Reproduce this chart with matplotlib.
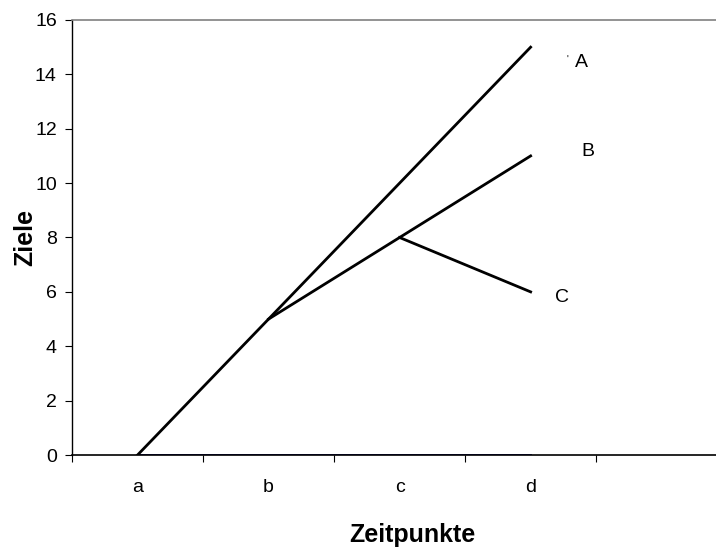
"""
Zielentwicklung ueber Zeitpunkte (Excel-style line chart).
"""

import matplotlib

matplotlib.use("Agg")
import matplotlib.pyplot as plt

categories = ["a", "b", "c", "d"]
series_a = [0, 5, 10, 15]
series_b_x = [1, 2, 3]
series_b = [5, 8, 11]
series_c_x = [2, 3]
series_c = [8, 6]
baseline = [0, 0, 0, 0]

labels = ["A", "B", "C"]
label_x = [3.39, 3.44, 3.24]
label_y = [14.45, 11.18, 5.81]

y_ticks = list(range(0, 17, 2))

plt.rcParams["font.family"] = ["Liberation Sans", "DejaVu Sans"]

fig = plt.figure(figsize=(7.16, 5.49), dpi=100)
axis = fig.add_axes([0.1006, 0.1712, 0.915, 0.7924])

x_pos = list(range(len(categories)))
axis.plot(x_pos, baseline, color="#000080", linewidth=1.3, zorder=2)
axis.plot(x_pos, series_a, color="black", linewidth=2.0, zorder=3)
axis.plot(series_b_x, series_b, color="black", linewidth=2.0, zorder=3)
axis.plot(series_c_x, series_c, color="black", linewidth=2.0, zorder=3)

for text, tx, ty in zip(labels, label_x, label_y):
    axis.text(tx, ty, text, fontsize=14, ha="center", va="center")
axis.text(3.28, 14.55, "'", fontsize=7, ha="center", va="center")

axis.set_xlim(-0.5, 4.5)
axis.set_ylim(0, 16)
axis.set_yticks(y_ticks)
axis.set_xticks([i + 0.5 for i in range(-1, 5)])
axis.set_xticklabels([])
axis.set_xticks(x_pos, minor=True)
axis.set_xticklabels(categories, minor=True)
axis.tick_params(axis="x", which="minor", length=0, pad=17, labelsize=14)
axis.tick_params(axis="x", which="major", length=5, width=0.8, direction="out")
axis.tick_params(axis="y", length=5, width=0.8, labelsize=14, pad=6)

axis.spines["right"].set_visible(False)
axis.spines["top"].set_color("#808080")
axis.spines["top"].set_linewidth(1.2)
axis.spines["left"].set_linewidth(1.0)
axis.spines["bottom"].set_linewidth(1.2)

axis.set_xlabel("Zeitpunkte", fontsize=18, fontweight="bold")
axis.set_ylabel("Ziele", fontsize=18, fontweight="bold")
axis.xaxis.set_label_coords(0.52, -0.156)
axis.yaxis.set_label_coords(-0.053, 0.5)

fig.savefig("out.png", dpi=100)
